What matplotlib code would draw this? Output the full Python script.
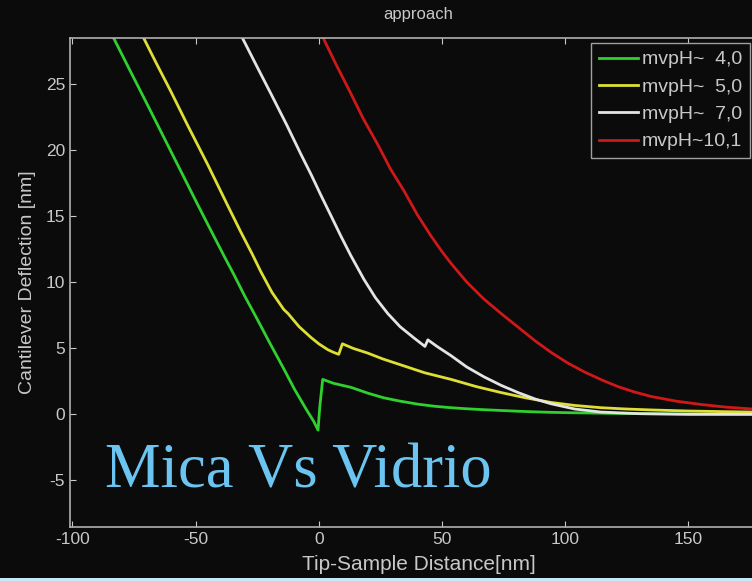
import matplotlib
matplotlib.use("Agg")
import matplotlib.pyplot as plt
from matplotlib.patches import Rectangle

plt.rcParams['font.family'] = ['Liberation Sans', 'DejaVu Sans']
plt.rcParams['axes.unicode_minus'] = False

# ---- data ----
x_ph4 = [-83.3, -76, -70, -63, -56, -49, -42.7, -38, -34.6, -30, -24.8, -20, -14.2, -10, -5, -2, -0.3,
         0.4, 1.6, 6, 13, 20, 26.4, 33, 40.2, 47, 53.7, 60, 67, 74, 80, 87, 94, 102, 110, 120, 130, 150, 176]
y_ph4 = [28.5, 25.8, 23.6, 21.0, 18.4, 15.8, 13.5, 11.8, 10.6, 8.9, 7.1, 5.4, 3.4, 1.9, 0.3, -0.6, -1.25,
         0.5, 2.6, 2.3, 2.0, 1.55, 1.2, 0.95, 0.72, 0.56, 0.45, 0.37, 0.3, 0.24, 0.19, 0.14, 0.1, 0.07, 0.05, 0.02, 0.0, -0.03, -0.05]

x_ph5 = [-71.1, -66, -60.2, -53.3, -45.1, -37, -31.7, -27, -23.6, -19, -14.2, -12.5, -8, -3.3, 0, 3.7, 6, 8.1,
         9.6, 14, 19.8, 26, 33.3, 43, 53.7, 64, 74, 84, 94.3, 104, 114.6, 125, 135, 150, 165, 176]
y_ph5 = [28.5, 26.6, 24.5, 21.9, 18.9, 15.8, 13.8, 12.1, 10.8, 9.2, 7.9, 7.6, 6.6, 5.8, 5.3, 4.85, 4.65, 4.5,
         5.3, 4.95, 4.6, 4.15, 3.7, 3.1, 2.6, 2.05, 1.6, 1.2, 0.85, 0.62, 0.45, 0.35, 0.28, 0.2, 0.15, 0.12]

x_ph7 = [-31.0, -25, -19.5, -13, -7.3, -3, 0.8, 5, 8.9, 13, 18.3, 23, 28, 33, 38.6, 43.1,
         44.3, 48, 53.7, 60, 67, 74, 80.9, 88, 94.3, 104, 114.6, 130, 150, 176]
y_ph7 = [28.5, 26.3, 24.3, 21.9, 19.7, 18.1, 16.6, 15.0, 13.5, 12.0, 10.2, 8.8, 7.6, 6.6, 5.75, 5.1,
         5.6, 5.1, 4.4, 3.55, 2.8, 2.15, 1.6, 1.1, 0.75, 0.35, 0.12, 0.0, -0.05, -0.05]

x_ph10 = [1.8, 7, 13, 18, 24, 29, 34.6, 40, 45.5, 50, 53.7, 60, 67, 74, 81, 88, 94.3, 101, 108, 115,
          121.5, 128, 135, 145, 155, 165, 176]
y_ph10 = [28.5, 26.5, 24.3, 22.4, 20.4, 18.6, 16.9, 15.1, 13.5, 12.3, 11.4, 10.0, 8.7, 7.6, 6.55, 5.5, 4.65, 3.85, 3.15, 2.55,
          2.05, 1.65, 1.3, 0.95, 0.7, 0.5, 0.35]

labels = ['mvpH~  4,0', 'mvpH~  5,0', 'mvpH~  7,0', 'mvpH~10,1']
xticks = [-100, -50, 0, 50, 100, 150]
yticks = [-5, 0, 5, 10, 15, 20, 25]

# ---- figure ----
bg = '#0b0b0b'
fg = '#c8c8c8'
fig = plt.figure(figsize=(7.52, 5.81), dpi=100, facecolor=bg)
ax_w = 1 - 70/752 + 0.02
ax = fig.add_axes([70/752, 1-527/581, ax_w, (527-38)/581])
ax.set_facecolor(bg)

colors = ['#2ed12e', '#dede35', '#e4e4e4', '#d01818']
series = [(x_ph4, y_ph4), (x_ph5, y_ph5), (x_ph7, y_ph7), (x_ph10, y_ph10)]
for (xs, ys), c, lab in zip(series, colors, labels):
    ax.plot(xs, ys, color=c, lw=2.0, label=lab)

ax.set_xlim(-101, 182)
ax.set_ylim(-8.6, 28.5)
ax.set_xticks(xticks)
ax.set_yticks(yticks)
ax.tick_params(direction='in', colors=fg, labelcolor=fg, labelsize=12.5,
               top=True, right=True, length=4, width=0.8)
for s in ax.spines.values():
    s.set_color('#b0b0b0')
    s.set_linewidth(1.2)

ax.set_xlabel('Tip-Sample Distance[nm]', color=fg, fontsize=15, labelpad=6)
ax.set_ylabel('Cantilever Deflection [nm]', color=fg, fontsize=14, labelpad=7)
ax.set_title('approach', color=fg, fontsize=12, pad=14)

leg = ax.legend(loc='upper right', bbox_to_anchor=((750-70)/(752*ax_w), 1 - 5/489),
                fontsize=14, frameon=True, handlelength=2.0, handletextpad=0.2,
                labelspacing=0.5, borderpad=0.4, borderaxespad=0.0)
leg.get_frame().set_facecolor(bg)
leg.get_frame().set_edgecolor('#a0a0a0')
leg.get_frame().set_alpha(1)
leg.get_frame().set_boxstyle('square', pad=0.0)
for t in leg.get_texts():
    t.set_color(fg)

fig.text(105/752, 1-488/581, 'Mica Vs Vidrio', family='Liberation Serif',
         fontsize=45, color='#6cc4f0', ha='left', va='baseline')

fig.patches.append(Rectangle((0, 0), 1, 3/581, transform=fig.transFigure,
                             facecolor='#c4e8f6', edgecolor='none'))

fig.savefig('out.png', dpi=100, facecolor=bg)
